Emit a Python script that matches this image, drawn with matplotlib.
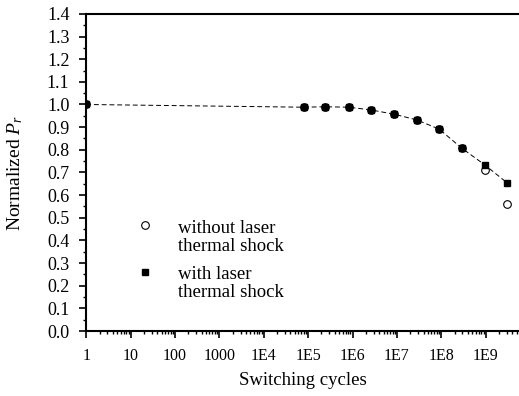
import numpy as np
import matplotlib.pyplot as plt
from matplotlib.ticker import FixedLocator, LogLocator, MultipleLocator, NullFormatter

plt.rcParams['font.family'] = ['Liberation Serif', 'DejaVu Serif']
plt.rcParams['mathtext.fontset'] = 'custom'
plt.rcParams['mathtext.rm'] = 'Liberation Serif'
plt.rcParams['mathtext.it'] = 'Liberation Serif:italic'

# data
cycles = [1, 8e4, 2.4e5, 8.3e5, 2.6e6, 8.7e6, 2.8e7, 9e7, 2.9e8, 9.6e8, 3e9]
pr_without = [1.0, 0.988, 0.991, 0.988, 0.976, 0.957, 0.932, 0.891, 0.807, 0.711, 0.562]
pr_with = [1.0, 0.988, 0.990, 0.988, 0.976, 0.957, 0.932, 0.891, 0.807, 0.733, 0.655]

x_ticks = [1, 10, 100, 1000, 1e4, 1e5, 1e6, 1e7, 1e8, 1e9]
x_labels = ['1', '10', '100', '1000', '1E4', '1E5', '1E6', '1E7', '1E8', '1E9']
legend_labels = ['without laser\nthermal shock', 'with laser\nthermal shock']

fig = plt.figure(figsize=(5.19, 3.96), dpi=100)
ax = fig.add_axes([0.166, 0.164, 0.834, 0.801])

# dashed guide line through the points
ax.plot(cycles, pr_with, color='black', lw=0.7, ls=(0, (5, 3)), zorder=1)
ax.plot(cycles, pr_without, ls='none', marker='o', ms=5.5, mfc='white',
        mec='black', mew=0.8, zorder=2)
ax.plot(cycles, pr_with, ls='none', marker='s', ms=5, color='black', zorder=3)

ax.set_xscale('log')
ax.set_xlim(1, 10 ** 9.75)
ax.set_ylim(0, 1.4)

ax.xaxis.set_major_locator(FixedLocator(x_ticks))
ax.set_xticklabels(x_labels)
ax.xaxis.set_minor_locator(LogLocator(base=10, subs=np.arange(2, 10), numticks=20))
ax.xaxis.set_minor_formatter(NullFormatter())
ax.yaxis.set_major_locator(MultipleLocator(0.1))
ax.yaxis.set_minor_locator(MultipleLocator(0.05))
ax.yaxis.set_major_formatter(plt.FuncFormatter(lambda v, p: '%.1f' % v))

ax.tick_params(which='major', direction='out', length=5, width=1.2,
               top=False, right=False)
ax.tick_params(which='minor', direction='out', length=2.5, width=1,
               top=False, right=False)
ax.tick_params(axis='x', labelsize=11.5, pad=7)
ax.tick_params(axis='y', labelsize=13, pad=7)

ax.spines['right'].set_visible(False)
for s in ['left', 'bottom', 'top']:
    ax.spines[s].set_linewidth(1.5)

ax.set_xlabel('Switching cycles', fontsize=13.5, labelpad=6)
ax.set_ylabel('Normalized $P_r$', fontsize=14)
ax.yaxis.set_label_coords(-0.141, 0.5)

# legend drawn by hand so the marker sits on the first line
ax.plot([0.137], [0.334], transform=ax.transAxes, marker='o', ms=5.5, mfc='white',
        mec='black', mew=0.8, ls='none', clip_on=False)
ax.plot([0.137], [0.186], transform=ax.transAxes, marker='s', ms=5, color='black',
        ls='none', clip_on=False)
ax.text(0.213, 0.252, legend_labels[0], transform=ax.transAxes, fontsize=13.5,
        va='baseline', ha='left', linespacing=1.1)
ax.text(0.213, 0.107, legend_labels[1], transform=ax.transAxes, fontsize=13.5,
        va='baseline', ha='left', linespacing=1.1)

fig.savefig('out.png', dpi=100)
